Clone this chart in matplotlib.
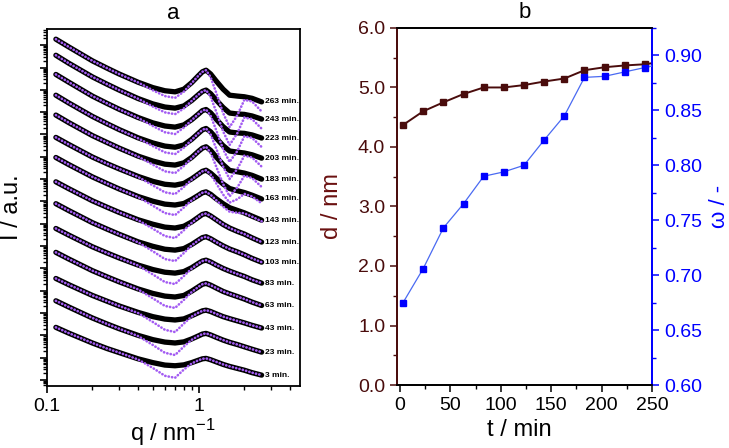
import numpy as np
import matplotlib
matplotlib.use('Agg')
import matplotlib.pyplot as plt
from matplotlib.ticker import LogLocator, NullFormatter, MultipleLocator, FormatStrFormatter

plt.rcParams['font.family'] = ['Liberation Sans', 'DejaVu Sans']
plt.rcParams['mathtext.fontset'] = 'custom'
plt.rcParams['mathtext.rm'] = 'Liberation Sans'

# ---- panel a: stacked scattering curves (log10 I, shifted), data + fit ----
q = [0.115, 0.14, 0.2, 0.25, 0.3, 0.4, 0.5, 0.6, 0.7, 0.8, 0.9, 1.0, 1.06, 1.12,
     1.2, 1.3, 1.45, 1.6, 1.8, 2.0, 2.25, 2.6]

data_3 = [2.36, 2.10, 1.66, 1.41, 1.23, 0.95, 0.78, 0.67, 0.64, 0.68, 0.78, 0.89, 0.95, 0.97, 0.91, 0.82, 0.70, 0.61, 0.52, 0.44, 0.33, 0.22]
fit_3 = [2.36, 2.10, 1.66, 1.41, 1.23, 0.92, 0.54, 0.19, 0.10, 0.47, 0.74, 0.89, 0.95, 0.97, 0.91, 0.82, 0.70, 0.61, 0.52, 0.44, 0.33, 0.22]
data_23 = [3.55, 3.27, 2.78, 2.51, 2.30, 2.00, 1.81, 1.70, 1.66, 1.71, 1.84, 1.98, 2.06, 2.09, 2.02, 1.92, 1.79, 1.69, 1.59, 1.49, 1.38, 1.25]
fit_23 = [3.55, 3.27, 2.78, 2.51, 2.30, 1.97, 1.57, 1.22, 1.12, 1.50, 1.80, 1.98, 2.06, 2.09, 2.02, 1.92, 1.79, 1.69, 1.59, 1.49, 1.38, 1.25]
data_43 = [4.55, 4.27, 3.79, 3.53, 3.32, 3.03, 2.84, 2.73, 2.69, 2.74, 2.88, 3.02, 3.10, 3.13, 3.07, 2.97, 2.84, 2.75, 2.65, 2.56, 2.45, 2.33]
fit_43 = [4.55, 4.27, 3.79, 3.53, 3.32, 3.00, 2.60, 2.25, 2.15, 2.53, 2.84, 3.02, 3.10, 3.13, 3.07, 2.97, 2.84, 2.75, 2.65, 2.56, 2.45, 2.33]
data_63 = [5.72, 5.42, 4.90, 4.62, 4.40, 4.08, 3.88, 3.76, 3.72, 3.79, 3.98, 4.18, 4.29, 4.33, 4.25, 4.13, 3.97, 3.86, 3.74, 3.63, 3.49, 3.34]
fit_63 = [5.72, 5.42, 4.90, 4.62, 4.40, 4.06, 3.66, 3.32, 3.23, 3.59, 3.94, 4.18, 4.29, 4.33, 4.25, 4.13, 3.97, 3.86, 3.74, 3.63, 3.49, 3.34]
data_83 = [6.79, 6.49, 5.97, 5.69, 5.47, 5.15, 4.95, 4.83, 4.79, 4.86, 5.03, 5.23, 5.33, 5.37, 5.29, 5.16, 5.00, 4.88, 4.75, 4.64, 4.49, 4.34]
fit_83 = [6.79, 6.49, 5.97, 5.69, 5.47, 5.13, 4.73, 4.39, 4.30, 4.66, 4.99, 5.23, 5.33, 5.37, 5.29, 5.16, 5.00, 4.88, 4.75, 4.64, 4.49, 4.34]
data_103 = [7.90, 7.59, 7.05, 6.76, 6.53, 6.19, 5.99, 5.86, 5.82, 5.89, 6.07, 6.27, 6.38, 6.42, 6.33, 6.19, 6.01, 5.87, 5.74, 5.61, 5.45, 5.28]
fit_103 = [7.90, 7.59, 7.05, 6.76, 6.53, 6.17, 5.77, 5.42, 5.33, 5.69, 6.03, 6.27, 6.38, 6.42, 6.33, 6.19, 6.01, 5.87, 5.74, 5.61, 5.45, 5.28]
data_123 = [8.88, 8.57, 8.03, 7.74, 7.51, 7.18, 6.98, 6.85, 6.81, 6.89, 7.08, 7.30, 7.42, 7.46, 7.35, 7.19, 6.97, 6.81, 6.66, 6.54, 6.37, 6.18]
fit_123 = [8.88, 8.57, 8.03, 7.74, 7.51, 7.16, 6.78, 6.45, 6.36, 6.71, 7.04, 7.30, 7.42, 7.46, 7.35, 7.19, 6.97, 6.81, 6.66, 6.54, 6.37, 6.18]
data_143 = [9.97, 9.65, 9.10, 8.80, 8.56, 8.22, 8.01, 7.88, 7.84, 7.91, 8.09, 8.28, 8.39, 8.43, 8.32, 8.13, 7.90, 7.72, 7.60, 7.49, 7.34, 7.16]
fit_143 = [9.97, 9.65, 9.10, 8.80, 8.56, 8.20, 7.81, 7.48, 7.39, 7.73, 8.05, 8.28, 8.39, 8.43, 8.30, 8.07, 7.77, 7.54, 7.49, 7.47, 7.32, 7.11]
data_163 = [10.87, 10.55, 9.99, 9.69, 9.46, 9.12, 8.90, 8.77, 8.73, 8.81, 9.01, 9.23, 9.35, 9.40, 9.27, 9.06, 8.78, 8.58, 8.48, 8.40, 8.28, 8.11]
fit_163 = [10.87, 10.55, 9.99, 9.69, 9.46, 9.10, 8.72, 8.41, 8.33, 8.65, 8.98, 9.23, 9.35, 9.40, 9.21, 8.84, 8.31, 7.95, 8.10, 8.34, 8.22, 7.92]
data_183 = [11.87, 11.53, 10.95, 10.64, 10.39, 10.03, 9.81, 9.67, 9.63, 9.73, 9.97, 10.25, 10.39, 10.45, 10.29, 10.01, 9.65, 9.39, 9.33, 9.27, 9.17, 9.00]
fit_183 = [11.87, 11.53, 10.95, 10.64, 10.39, 10.01, 9.65, 9.35, 9.27, 9.59, 9.94, 10.25, 10.39, 10.45, 10.17, 9.60, 8.78, 8.23, 8.63, 9.15, 9.05, 8.65]
data_203 = [12.76, 12.41, 11.81, 11.48, 11.22, 10.85, 10.62, 10.48, 10.43, 10.53, 10.78, 11.06, 11.21, 11.27, 11.12, 10.85, 10.50, 10.26, 10.21, 10.17, 10.09, 9.94]
fit_203 = [12.76, 12.41, 11.81, 11.48, 11.22, 10.83, 10.48, 10.20, 10.12, 10.41, 10.76, 11.06, 11.21, 11.27, 11.00, 10.41, 9.56, 9.01, 9.46, 10.05, 9.97, 9.56]
data_223 = [13.69, 13.34, 12.72, 12.39, 12.13, 11.76, 11.52, 11.38, 11.33, 11.43, 11.66, 11.92, 12.07, 12.12, 11.97, 11.70, 11.35, 11.11, 11.07, 11.05, 10.98, 10.84]
fit_223 = [13.69, 13.34, 12.72, 12.39, 12.13, 11.74, 11.38, 11.10, 11.02, 11.31, 11.64, 11.92, 12.07, 12.12, 11.84, 11.23, 10.34, 9.77, 10.26, 10.92, 10.85, 10.44]
data_243 = [14.55, 14.19, 13.58, 13.25, 12.99, 12.61, 12.37, 12.23, 12.18, 12.28, 12.52, 12.79, 12.93, 12.99, 12.83, 12.56, 12.21, 11.96, 11.92, 11.90, 11.83, 11.69]
fit_243 = [14.55, 14.19, 13.58, 13.25, 12.99, 12.60, 12.25, 11.99, 11.91, 12.17, 12.50, 12.79, 12.93, 12.99, 12.69, 12.06, 11.14, 10.53, 11.06, 11.76, 11.69, 11.26]
data_263 = [15.27, 14.92, 14.30, 13.97, 13.71, 13.34, 13.10, 12.96, 12.91, 13.03, 13.32, 13.64, 13.81, 13.88, 13.71, 13.41, 13.03, 12.76, 12.72, 12.69, 12.62, 12.46]
fit_263 = [15.27, 14.92, 14.30, 13.97, 13.71, 13.33, 12.98, 12.72, 12.64, 12.92, 13.30, 13.64, 13.81, 13.88, 13.57, 12.91, 11.96, 11.33, 11.86, 12.55, 12.48, 12.03]

curve_times = [3, 23, 43, 63, 83, 103, 123, 143, 163, 183, 203, 223, 243, 263]
curves = [data_3, data_23, data_43, data_63, data_83, data_103, data_123,
          data_143, data_163, data_183, data_203, data_223, data_243, data_263]
fits = [fit_3, fit_23, fit_43, fit_63, fit_83, fit_103, fit_123,
        fit_143, fit_163, fit_183, fit_203, fit_223, fit_243, fit_263]

# ---- panel b ----
t_min = [3, 23, 43, 63, 83, 103, 123, 143, 163, 183, 203, 223, 243, 263]
d_nm = [4.37, 4.60, 4.75, 4.89, 5.00, 5.00, 5.04, 5.10, 5.15, 5.29, 5.34, 5.37, 5.39, 5.44]
omega = [0.675, 0.706, 0.743, 0.765, 0.790, 0.794, 0.800, 0.823, 0.845, 0.880, 0.881, 0.885, 0.889, 0.893]

maroon = '#4a0c0c'
blue = '#0000ff'

fig = plt.figure(figsize=(7.29, 4.48), dpi=100)

# panel a
ax = fig.add_axes([0.064, 0.139, 0.3475, 0.796])
for tm, dat, ft in zip(curve_times, curves, fits):
    ax.plot(q, 10 ** np.array(dat), color='black', lw=3.8,
            solid_capstyle='round', solid_joinstyle='round', zorder=2)
    ax.plot(q, 10 ** np.array(ft), color='#a35cf2', lw=1.9,
            ls=(0, (0.1, 1.2)), dash_capstyle='round', zorder=3)
    ax.text(2.72, 10 ** dat[-1], f'{tm} min.', fontsize=6, fontweight='bold',
            ha='left', va='center')

ax.set_xscale('log')
ax.set_yscale('log')
ax.set_xlim(0.1, 4.65)
ax.set_ylim(10 ** -0.255, 10 ** 15.72)
ax.yaxis.set_major_locator(LogLocator(base=10, numticks=40))
ax.yaxis.set_minor_locator(LogLocator(base=10, subs=np.arange(2, 10), numticks=400))
ax.yaxis.set_major_formatter(NullFormatter())
ax.yaxis.set_minor_formatter(NullFormatter())
ax.set_xticks([0.1, 1])
ax.set_xticklabels(['0.1', '1'])
ax.xaxis.set_minor_locator(LogLocator(base=10, subs=np.arange(2, 10), numticks=40))
ax.xaxis.set_minor_formatter(NullFormatter())
ax.tick_params(which='both', direction='out', top=False, right=False, labelsize=14)
ax.tick_params(which='major', length=5, width=1.2)
ax.tick_params(which='minor', length=3, width=1.0)
for s in ax.spines.values():
    s.set_linewidth(1.3)
ax.set_title('a', fontsize=16, pad=7)
ax.set_ylabel('I / a.u.', fontsize=17)
ax.yaxis.set_label_coords(-0.095, 0.5)
ax.set_xlabel('q / nm$^{\\mathrm{-1}}$', fontsize=17)
ax.xaxis.set_label_coords(0.5, -0.088)

# panel b
ax2 = fig.add_axes([0.5446, 0.1406, 0.3498, 0.797])
ax2.plot(t_min, d_nm, color=maroon, lw=1.4, marker='s', ms=4.3, zorder=3)
ax2.set_xlim(-3, 250)
ax2.set_ylim(0, 6)
ax2.xaxis.set_major_locator(MultipleLocator(50))
ax2.xaxis.set_minor_locator(MultipleLocator(25))
ax2.yaxis.set_major_locator(MultipleLocator(1))
ax2.yaxis.set_minor_locator(MultipleLocator(0.5))
ax2.yaxis.set_major_formatter(FormatStrFormatter('%.1f'))
ax2.tick_params(which='both', direction='out', labelsize=14, top=False, right=False)
ax2.tick_params(axis='y', which='both', colors=maroon)
ax2.tick_params(which='major', length=5, width=1.1)
ax2.tick_params(which='minor', length=3, width=1.0)
ax2.set_xlabel('t / min', fontsize=17)
ax2.xaxis.set_label_coords(0.48, -0.095)
ax2.set_ylabel('d / nm', fontsize=17, color='#6a1010')
ax2.yaxis.set_label_coords(-0.21, 0.5)
ax2.set_title('b', fontsize=16, pad=7)

ax3 = ax2.twinx()
ax3.plot(t_min, omega, color='#4a6af2', lw=0.9, marker='s', ms=4.3,
         mfc=blue, mec=blue, zorder=3)
ax3.set_ylim(0.6, 0.925)
ax3.yaxis.set_major_locator(MultipleLocator(0.05))
ax3.yaxis.set_minor_locator(MultipleLocator(0.025))
ax3.yaxis.set_major_formatter(FormatStrFormatter('%.2f'))
ax3.tick_params(axis='y', which='both', direction='out', colors=blue, labelsize=14)
ax3.tick_params(which='major', length=5, width=1.1)
ax3.tick_params(which='minor', length=3, width=1.0)
ax3.set_ylabel('ω / -', fontsize=16, color=blue)
ax3.yaxis.set_label_coords(1.222, 0.5)

for a in (ax2, ax3):
    a.spines['left'].set_color(maroon)
    a.spines['right'].set_color(blue)
    for s in a.spines.values():
        s.set_linewidth(1.3)

fig.savefig('out.png', dpi=100)
